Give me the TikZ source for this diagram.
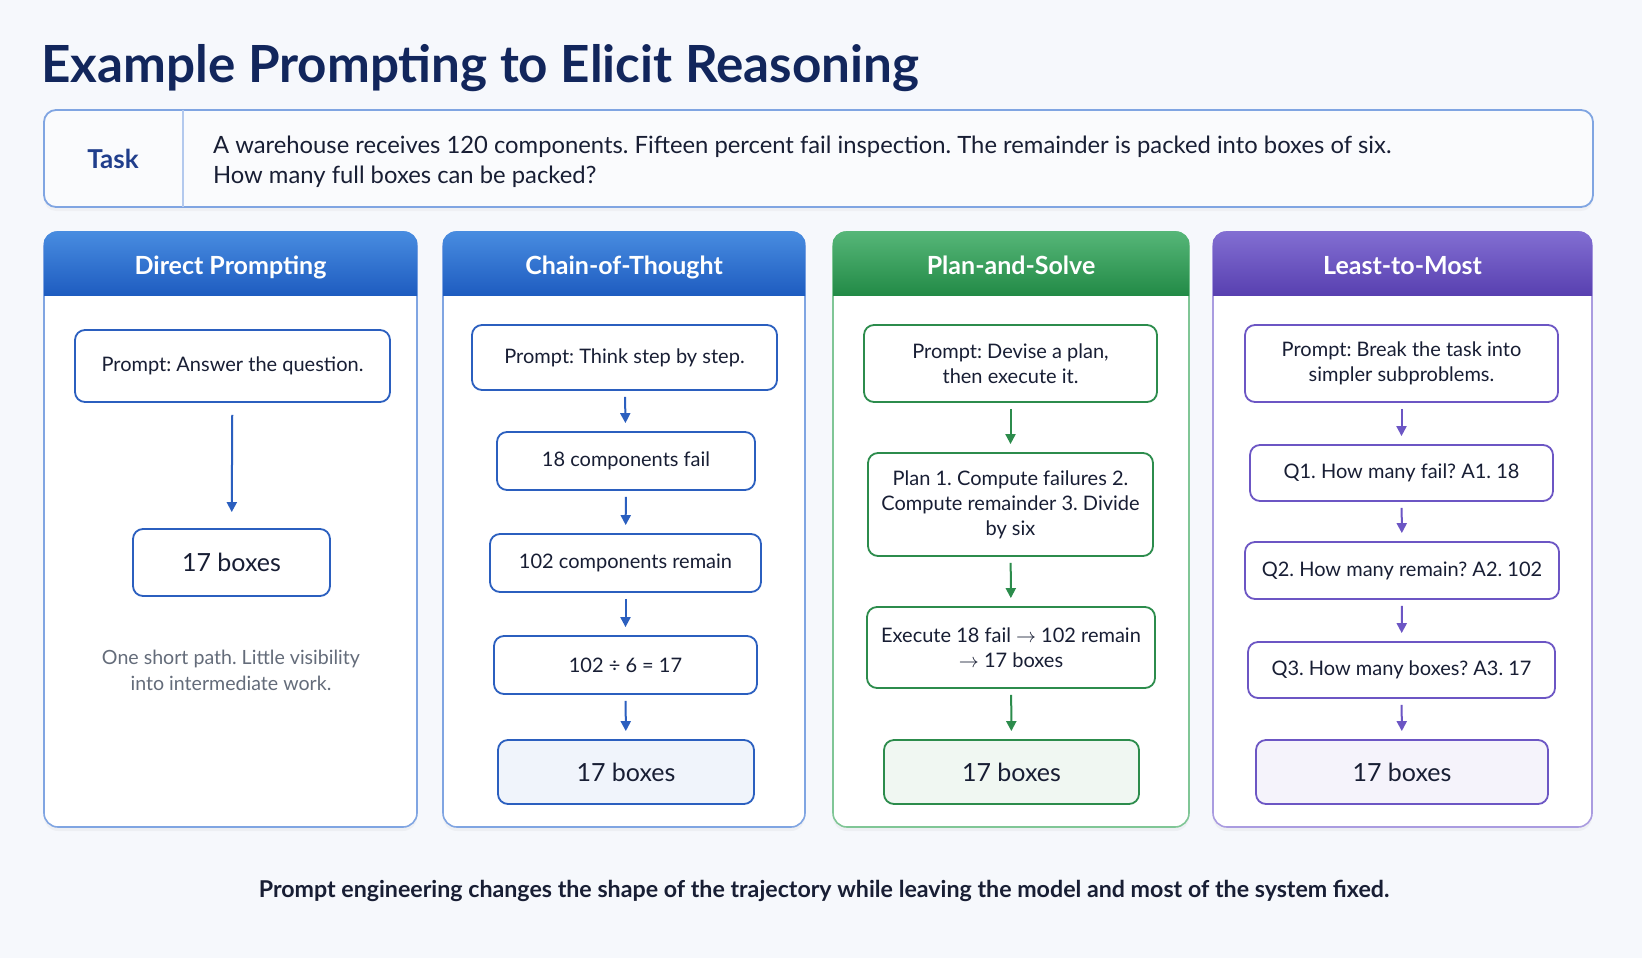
\documentclass[tikz,border=0pt]{standalone}
\usepackage{fontspec}
\setmainfont{Lato}
\usetikzlibrary{arrows.meta,positioning,shadows}
\definecolor{ink}{RGB}{24,30,52}
\definecolor{navy}{RGB}{18,38,92}
\definecolor{bgc}{RGB}{246,248,252}
\definecolor{taskblue}{RGB}{32,62,140}
\definecolor{dblue}{RGB}{43,95,191}
\definecolor{hblue}{RGB}{30,92,192}
\definecolor{hbluetop}{RGB}{72,140,224}
\definecolor{lblue}{RGB}{128,165,226}
\definecolor{dgreen}{RGB}{44,140,76}
\definecolor{hgreen}{RGB}{34,138,70}
\definecolor{hgreentop}{RGB}{86,182,120}
\definecolor{lgreen}{RGB}{128,198,150}
\definecolor{dpurple}{RGB}{108,86,196}
\definecolor{hpurple}{RGB}{88,64,176}
\definecolor{hpurpletop}{RGB}{130,110,210}
\definecolor{lpurple}{RGB}{170,156,224}
\definecolor{notegray}{RGB}{100,108,122}
\frenchspacing

\begin{document}
\begin{tikzpicture}[x=0.5pt, y=-0.5pt,
    panel/.style={draw=#1, fill=white, rounded corners=7pt, line width=0.8pt,
                  drop shadow={opacity=0.07, shadow xshift=0pt, shadow yshift=-2pt}},
    hdr/.style={top color=#1top, bottom color=#1, text=white, inner sep=0pt,
                font=\fontsize{12.5}{15}\bfseries\selectfont, minimum height=32pt,
                text height=13pt, text depth=2.5pt},
    bx/.style={draw=#1, fill=white, rounded corners=5pt, line width=0.9pt, text=ink,
               align=center, font=\fontsize{10}{12.5}\selectfont},
    res/.style={bx=#1, fill=#1!7, font=\fontsize{12.5}{15}\selectfont},
    arr/.style={-{Triangle[length=5pt, width=5pt]}, line width=1pt, draw=#1,
                shorten <=3pt, shorten >=4pt}]
    \useasboundingbox (0,0) rectangle (1642,958);
    \fill[bgc] (0,0) rectangle (1642,958);

    % title and task
    \node[anchor=west, inner sep=0pt, text=navy, font=\fontsize{25.6}{30}\bfseries\selectfont]
        (title) at (41,68) {Example Prompting to Elicit Reasoning};
    \node[draw=lblue, fill=bgc!60!white, rounded corners=6pt, line width=0.9pt,
          minimum width=774.5pt, minimum height=48.5pt,
          drop shadow={opacity=0.06, shadow xshift=0pt, shadow yshift=-2pt}]
        (task) at (818.5,158.5) {};
    \node[anchor=west, minimum width=69.5pt, minimum height=48.5pt, inner sep=0pt,
          text=taskblue, font=\fontsize{13}{15}\bfseries\selectfont]
        (tlab) at (task.west) {Task};
    \draw[lblue!60, line width=0.7pt] (tlab.north east) -- (tlab.south east);
    \node[anchor=west, align=left, text=ink, font=\fontsize{11.9}{15}\selectfont]
        (ttext) at (206,162) {A warehouse receives 120 components. Fifteen percent fail inspection. The remainder is packed into boxes of six.\\How many full boxes can be packed?};

    % direct prompting
    \node[panel=lblue, minimum width=186.5pt, minimum height=297.5pt] (pd) at (230.5,529.5) {};
    \begin{scope}
      \clip[rounded corners=7pt] (pd.south west) rectangle (pd.north east);
      \node[hdr=hblue, minimum width=186.5pt, anchor=north] (hd) at (pd.north) {Direct Prompting};
    \end{scope}
    \node[bx=dblue, minimum width=157.5pt, minimum height=36pt] (d1) at (232.5,366) {Prompt: Answer the question.};
    \node[bx=dblue, minimum width=98.5pt, minimum height=33.5pt, font=\fontsize{12.5}{15}\selectfont] (d2) at (231.5,562.5) {17 boxes};
    \node[align=center, text=notegray, font=\fontsize{9.8}{13}\selectfont] (dn) at (231,670) {One short path. Little visibility\\into intermediate work.};
    \draw[arr=dblue, shorten <=6pt, shorten >=8pt] (d1) -- (d2);

    % chain-of-thought
    \node[panel=lblue, minimum width=181pt, minimum height=297.5pt] (pc) at (624,529.5) {};
    \begin{scope}
      \clip[rounded corners=7pt] (pc.south west) rectangle (pc.north east);
      \node[hdr=hblue, minimum width=181pt, anchor=north] (hc) at (pc.north) {Chain-of-Thought};
    \end{scope}
    \node[bx=dblue, minimum width=152.5pt, minimum height=32.5pt] (c1) at (624.5,357.5) {Prompt: Think step by step.};
    \node[bx=dblue, minimum width=129pt, minimum height=29pt] (c2) at (626,461) {18 components fail};
    \node[bx=dblue, minimum width=135.5pt, minimum height=29pt] (c3) at (625.5,563) {102 components remain};
    \node[bx=dblue, minimum width=131.5pt, minimum height=29pt] (c4) at (625.5,665) {102 ÷ 6 = 17};
    \node[res=dblue, minimum width=128pt, minimum height=32pt] (c5) at (626,772) {17 boxes};
    \draw[arr=dblue] (c1) -- (c2);
    \draw[arr=dblue] (c2) -- (c3);
    \draw[arr=dblue] (c3) -- (c4);
    \draw[arr=dblue] (c4) -- (c5);

    % plan-and-solve
    \node[panel=lgreen, minimum width=178pt, minimum height=297.5pt] (ps) at (1011,529.5) {};
    \begin{scope}
      \clip[rounded corners=7pt] (ps.south west) rectangle (ps.north east);
      \node[hdr=hgreen, minimum width=178pt, anchor=north] (hs) at (ps.north) {Plan-and-Solve};
    \end{scope}
    \node[bx=dgreen, minimum width=146.5pt, minimum height=38.5pt] (s1) at (1010.5,363.5) {Prompt: Devise a plan,\\then execute it.};
    \node[bx=dgreen, minimum width=142.5pt, minimum height=51.5pt] (s2) at (1010.5,504.5) {Plan 1. Compute failures 2.\\Compute remainder 3. Divide\\by six};
    \node[bx=dgreen, minimum width=144pt, minimum height=40.5pt] (s3) at (1011,647.5) {Execute 18 fail $\rightarrow$ 102 remain\\$\rightarrow$ 17 boxes};
    \node[res=dgreen, minimum width=127.5pt, minimum height=32pt] (s4) at (1011.5,772) {17 boxes};
    \draw[arr=dgreen] (s1) -- (s2);
    \draw[arr=dgreen] (s2) -- (s3);
    \draw[arr=dgreen] (s3) -- (s4);

    % least-to-most
    \node[panel=lpurple, minimum width=189.5pt, minimum height=297.5pt] (pm) at (1402.5,529.5) {};
    \begin{scope}
      \clip[rounded corners=7pt] (pm.south west) rectangle (pm.north east);
      \node[hdr=hpurple, minimum width=189.5pt, anchor=north] (hm) at (pm.north) {Least-to-Most};
    \end{scope}
    \node[bx=dpurple, minimum width=156.5pt, minimum height=38.5pt] (m1) at (1401.5,363.5) {Prompt: Break the task into\\simpler subproblems.};
    \node[bx=dpurple, minimum width=151.5pt, minimum height=28pt] (m2) at (1401.5,473) {Q1. How many fail? A1. 18};
    \node[bx=dpurple, minimum width=157pt, minimum height=28.5pt] (m3) at (1402,570.5) {Q2. How many remain? A2. 102};
    \node[bx=dpurple, minimum width=153.5pt, minimum height=28pt] (m4) at (1401.5,670) {Q3. How many boxes? A3. 17};
    \node[res=dpurple, minimum width=146pt, minimum height=32pt] (m5) at (1402,772) {17 boxes};
    \draw[arr=dpurple] (m1) -- (m2);
    \draw[arr=dpurple] (m2) -- (m3);
    \draw[arr=dpurple] (m3) -- (m4);
    \draw[arr=dpurple] (m4) -- (m5);

    % footer
    \node[text=ink, font=\fontsize{11.6}{13}\bfseries\selectfont] (foot) at (824,891)
        {Prompt engineering changes the shape of the trajectory while leaving the model and most of the system fixed.};
\end{tikzpicture}
\end{document}
